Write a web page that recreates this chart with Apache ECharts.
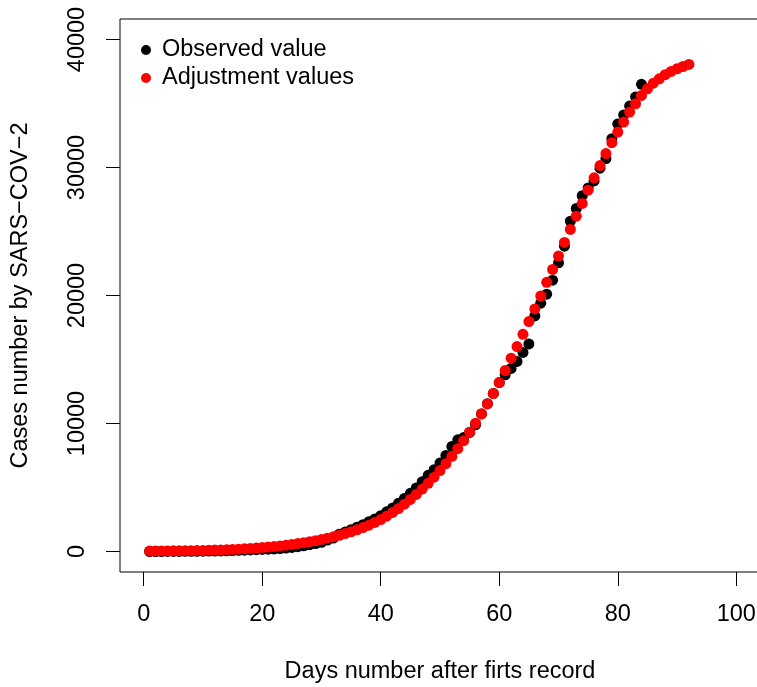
<!DOCTYPE html>
<html>
<head>
<meta charset="utf-8">
<script src="https://cdn.jsdelivr.net/npm/echarts@6/dist/echarts.min.js"></script>
<style>
html,body{margin:0;padding:0;background:#fff;}
#chart{width:757px;height:687px;}
</style>
</head>
<body>
<div id="chart"></div>
<script>
// Observed cases (days 1..84)
const observedDays = Array.from({length: 84}, (_, i) => i + 1);
const observedValues = [
  1,1,2,3,5,8,12,16,20,26,
  32,40,50,60,75,90,108,125,140,160,
  180,205,235,270,320,380,450,530,620,720,
  900,1050,1350,1520,1700,1900,2100,2330,2550,2800,
  3100,3400,3780,4150,4550,4970,5450,5950,6390,6920,
  7510,8210,8730,8900,9300,9900,10750,11550,12350,13200,
  13800,14300,14850,15550,16220,18400,19400,20100,21200,22550,
  23850,25800,26800,27800,28400,28950,29950,30700,32250,33400,
  34100,34800,35500,36500
];
// Adjusted (fitted) values (days 1..92)
const adjustedDays = Array.from({length: 92}, (_, i) => i + 1);
const adjustedValues = [
  37,40,43,47,51,56,62,69,77,87,
  98,111,126,143,163,185,210,238,270,305,
  345,390,440,495,555,620,690,765,850,940,
  1040,1150,1270,1400,1545,1700,1870,2060,2270,2500,
  2760,3050,3360,3700,4070,4460,4880,5330,5810,6320,
  6860,7430,8030,8660,9320,10020,10760,11530,12340,13200,
  14140,15100,16010,16970,17960,18950,19960,21030,22040,23080,
  24150,25160,26200,27190,28230,29190,30150,31090,31940,32770,
  33550,34330,34980,35630,36150,36590,36930,37250,37500,37710,37890,38050
];
const xTicks = [0, 20, 40, 60, 80, 100];
const yTicks = [0, 10000, 20000, 30000, 40000];
const seriesNames = ['Observed value', 'Adjustment values'];
const xTitle = 'Days number after firts record';
const yTitle = 'Cases number by SARS\u2212COV\u22122';

const FONT = 'Liberation Sans, Arial, Helvetica, sans-serif';
const FS = 23.5;

const chart = echarts.init(document.getElementById('chart'), null, {renderer: 'canvas'});
chart.setOption({
  animation: false,
  backgroundColor: '#ffffff',
  textStyle: {fontFamily: FONT},
  grid: {
    left: 120, top: 19, width: 640, height: 553,
    outerBoundsMode: 'none', containLabel: false,
    show: true, borderColor: '#000', borderWidth: 1, backgroundColor: 'transparent'
  },
  legend: {
    orient: 'vertical',
    left: 136, top: 33,
    itemWidth: 10, itemHeight: 10,
    itemGap: 4,
    icon: 'circle',
    textStyle: {fontFamily: FONT, fontSize: FS, color: '#000', padding: [0, 0, 0, 6]},
    data: seriesNames
  },
  xAxis: {
    type: 'value', min: -4, max: 104,
    name: xTitle, nameLocation: 'middle', nameGap: 88,
    nameTextStyle: {fontFamily: FONT, fontSize: FS, color: '#000'},
    axisLine: {show: false, onZero: false},
    splitLine: {show: false},
    axisTick: {show: true, inside: false, length: 14, customValues: xTicks, lineStyle: {color: '#000', width: 1}},
    axisLabel: {customValues: xTicks, fontFamily: FONT, fontSize: FS, color: '#000', margin: 31,
      formatter: v => String(v)}
  },
  yAxis: {
    type: 'value', min: -1600, max: 41600,
    name: yTitle, nameLocation: 'middle', nameGap: 87, nameRotate: 90,
    nameTextStyle: {fontFamily: FONT, fontSize: FS, color: '#000'},
    axisLine: {show: false, onZero: false},
    splitLine: {show: false},
    axisTick: {show: true, inside: false, length: 14, customValues: yTicks, lineStyle: {color: '#000', width: 1}},
    axisLabel: {customValues: yTicks, rotate: 90, fontFamily: FONT, fontSize: FS, color: '#000', margin: 30,
      formatter: v => String(v)}
  },
  series: [
    {
      name: seriesNames[0], type: 'scatter', symbol: 'circle', symbolSize: 11,
      itemStyle: {color: '#000000', opacity: 1},
      data: observedDays.map((d, i) => [d, observedValues[i]]),
      z: 2
    },
    {
      name: seriesNames[1], type: 'scatter', symbol: 'circle', symbolSize: 11,
      itemStyle: {color: '#ff0000', opacity: 1},
      data: adjustedDays.map((d, i) => [d, adjustedValues[i]]),
      z: 3
    }
  ]
});
</script>
</body>
</html>
